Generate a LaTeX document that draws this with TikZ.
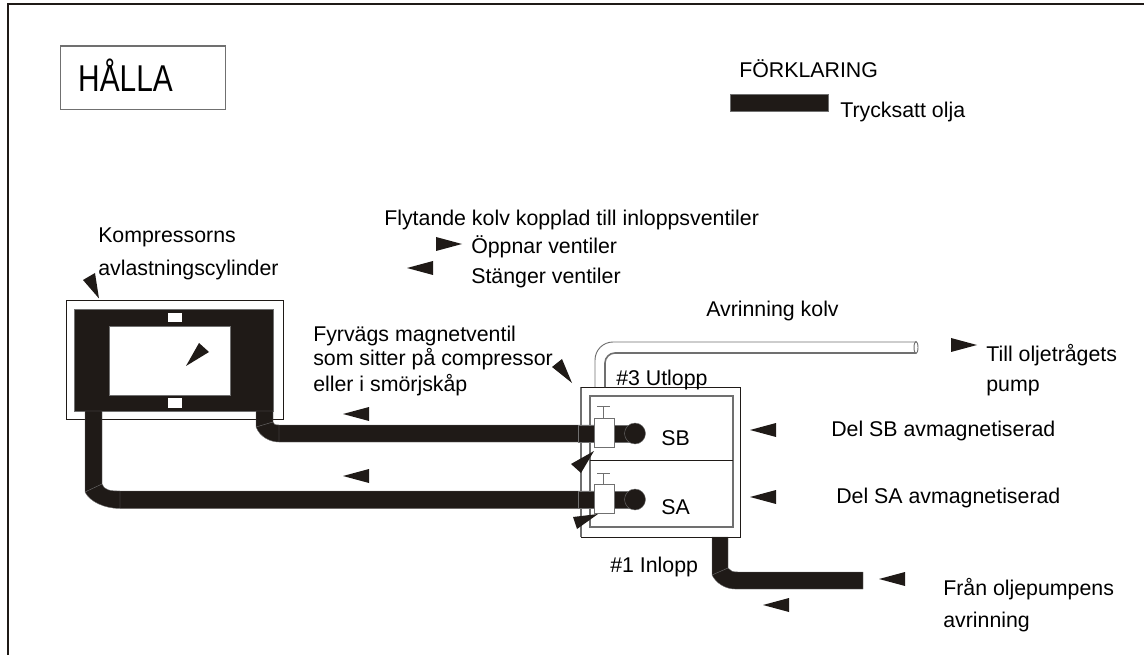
\documentclass[tikz,border=0pt]{standalone}
\usepackage{fontspec}
\setmainfont{Liberation Sans}
\definecolor{oilblack}{HTML}{1F1A17}
\definecolor{edgegray}{HTML}{707070}
\begin{document}
\begin{tikzpicture}[x=0.75pt, y=-0.75pt, every node/.style={font=\fontsize{16pt}{19pt}\selectfont, text=black, inner sep=0pt, anchor=base west},
	oil/.style={fill=oilblack, draw=edgegray, line width=0.3pt}, box/.style={draw=edgegray, line width=0.8pt}, flow/.style={fill=oilblack}, seam/.style={draw=edgegray, line width=0.3pt}]
	\useasboundingbox (0,0) rectangle (1144,655);
	\draw[oilblack, line width=0.9pt] (8,655) -- (8,4) -- (1144,4);
	% title and legend
	\draw[box] (60.5,46) rectangle (225.5,109.5);
	\node[font=\fontsize{28pt}{32pt}\selectfont, xscale=0.8] (halla) at (78,92) {HÅLLA};
	\node (legend) at (739,78) {FÖRKLARING};
	\fill[oil] (730,94) rectangle (828,111);
	\node (pressoil) at (840,118) {Trycksatt olja};
	% unloading cylinder
	\draw[oilblack, line width=0.6pt] (66,300.5) rectangle (283,419);
	\fill[oil] (74.5,309) rectangle (273.5,411);
	\fill[white, draw=edgegray, line width=0.4pt] (109,326) rectangle (230.5,395.5);
	\fill[white] (168,313) rectangle (181.5,322.5);
	\fill[white] (168,398) rectangle (181.5,408);
	% oil pipes
	\fill[oil] (85,411) -- (85,492) .. controls (90,502) and (105,508.5) .. (120,508.5) -- (594,508.5) -- (594,491) -- (120,491) .. controls (110,491) and (104,490) .. (102,484) -- (102,411) -- cycle;
	\fill[oil] (256,411) -- (256,427) .. controls (260,437) and (270,442) .. (279,442) -- (594,442) -- (594,425) -- (279,425) .. controls (275,425) and (273,424) .. (273,422) -- (273,411) -- cycle;
	\fill[oil] (712,537) -- (712,575) .. controls (716,583) and (725,589) .. (735,589) -- (863,589) -- (863,572) -- (738,572) .. controls (733,572) and (730,571) .. (728,568) -- (728,537) -- cycle;
	\draw[seam] (85,492) -- (102,484) (120,491) -- (120,508.5) (256,427) -- (273,422) (279,425) -- (279,442) (712,575) -- (728,568);
	% solenoid valve housing
	\draw[box] (590,396) rectangle (733,527);
	\draw[oilblack, line width=0.5pt] (590,460.5) -- (733,460.5);
	\draw[edgegray, line width=0.8pt] (581,537) -- (581,387);
	\draw[oilblack, line width=0.6pt] (581,387) -- (740.5,387) -- (740.5,537) -- (581,537);
	\foreach \y/\top in {433.5/406, 499.5/473.5} {
		\fill[oil] (578,\y-8.5) rectangle (630,\y+8.5);
		\fill[oil] (635,\y) circle (10.5);
		\draw[edgegray, line width=0.7pt] (603,\y-15) -- (603,\top) (597,\top) -- (610,\top);
		\fill[white, draw=edgegray, line width=0.7pt] (594,\y-15) rectangle (614.5,\y+13.5);
	}
	% drain pipe
	\draw[edgegray, line width=0.7pt] (595,387) -- (595,360) arc (180:270:18) -- (916,342);
	\draw[edgegray, line width=1.2pt] (605,387) -- (605,363) arc (180:270:10) -- (916,353);
	\draw[edgegray, fill=white, line width=0.7pt] (916,347.5) ellipse (2 and 6);
	% flow arrows
	\foreach \x/\y in {407/268, 343/414, 343/476, 750/430, 750/497, 879/579, 763/605} {
		\fill[flow] (\x,\y) -- (\x+26,\y-7) -- (\x+26,\y+7) -- cycle;
	}
	\foreach \x/\y in {462/244, 977/345} {
		\fill[flow] (\x,\y) -- (\x-26,\y-7) -- (\x-26,\y+7) -- cycle;
	}
	\fill[flow] (99,298.5) -- (83,280) -- (95,273) -- cycle;
	\fill[flow] (186,366) -- (199,343) -- (209,352) -- cycle;
	\fill[flow] (572,383) -- (552,367) -- (562,359) -- cycle;
	\fill[flow] (594,451) -- (571,464) -- (581,473) -- cycle;
	\fill[flow] (598,514) -- (573,517) -- (577,529) -- cycle;
	% labels
	\node (cylinder) at (98,243) {Kompressorns};
	\node (cylinder2) at (98,276) {avlastningscylinder};
	\node (piston) at (384,226) {Flytande kolv kopplad till inloppsventiler};
	\node (opens) at (471,254) {Öppnar ventiler};
	\node (closes) at (471,284) {Stänger ventiler};
	\node (drain) at (706,317) {Avrinning kolv};
	\node (solenoid) at (313,342) {Fyrvägs magnetventil};
	\node (solenoid2) at (313,366) {som sitter på compressor};
	\node (solenoid3) at (313,391) {eller i smörjskåp};
	\node (outlet) at (616,385) {\#3 Utlopp};
	\node (sump) at (986,362) {Till oljetrågets};
	\node (sump2) at (986,392) {pump};
	\node (secb) at (831,436) {Del SB avmagnetiserad};
	\node (seca) at (836,503) {Del SA avmagnetiserad};
	\node (sb) at (661,445) {SB};
	\node (sa) at (661,514) {SA};
	\node (inlet) at (610,572) {\#1 Inlopp};
	\node (pumpdrain) at (943,595) {Från oljepumpens};
	\node (pumpdrain2) at (943,627) {avrinning};
\end{tikzpicture}
\end{document}
